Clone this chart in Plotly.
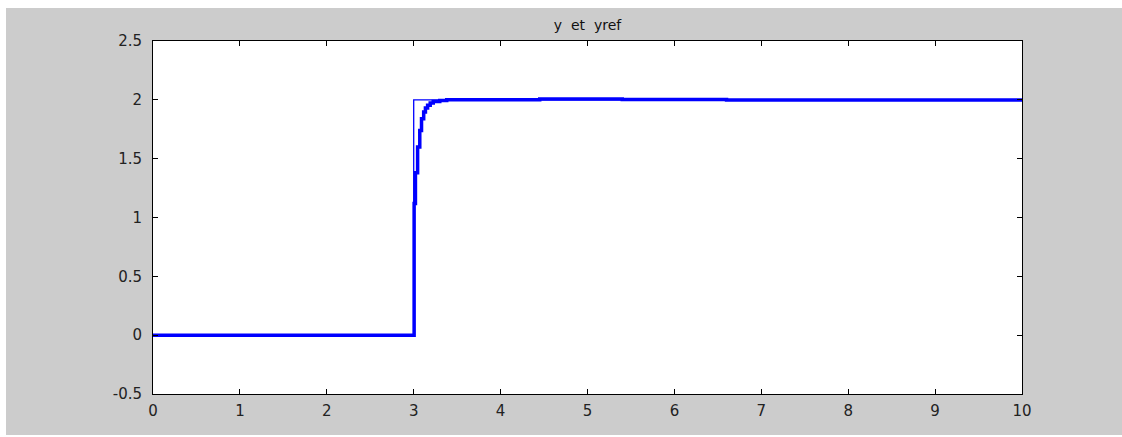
import plotly.graph_objects as go

# Reference signal yref
t_ref = [0, 3.0, 3.0, 10]
y_ref = [0, 0, 2, 2]

# Output y (sampled, held)
t_y = [0, 3.0, 3.005, 3.02, 3.045, 3.07, 3.09, 3.115, 3.135, 3.16, 3.19, 3.225, 3.30, 3.38, 4.45, 5.40, 6.60, 10]
y_out = [0, 0, 1.12, 1.38, 1.60, 1.74, 1.84, 1.897, 1.931, 1.954, 1.974, 1.985, 1.994, 2.0, 2.007, 2.003, 1.999, 1.999]

x_ticks = [0, 1, 2, 3, 4, 5, 6, 7, 8, 9, 10]
y_ticks = [-0.5, 0, 0.5, 1, 1.5, 2, 2.5]
y_ticklabels = ["-0.5", "0", "0.5", "1", "1.5", "2", "2.5"]

W, H = 1122, 437
L, R, T, B = 153, 100, 41, 43
pw, ph = W - L - R, H - T - B

fig = go.Figure()
fig.add_trace(go.Scatter(x=t_ref, y=y_ref, mode="lines", line=dict(color="#0000ff", width=1.3),
                         showlegend=False, hoverinfo="skip"))
fig.add_trace(go.Scatter(x=t_y, y=y_out, mode="lines", line=dict(color="#0000ff", width=3.5, shape="hv"),
                         showlegend=False))

# grey figure background with thin white border, white axes area
fig.add_shape(type="rect", xref="paper", yref="paper", layer="below",
              x0=(6 - L) / pw, x1=(W + 5 - L) / pw,
              y0=(H - B - 435) / ph, y1=(H - B - 8) / ph,
              fillcolor="#cccccc", line=dict(width=0))
fig.add_shape(type="rect", xref="paper", yref="paper", layer="below",
              x0=0, x1=1, y0=0, y1=1, fillcolor="white", line=dict(width=0))

axis_common = dict(showgrid=False, zeroline=False, showline=True, linecolor="#000000", linewidth=1,
                   mirror="ticks", ticks="inside", ticklen=5, tickcolor="#000000", tickwidth=1,
                   tickfont=dict(family="DejaVu Sans", size=15, color="#222222"))

fig.update_xaxes(range=[0, 10], tickvals=x_ticks, ticktext=[str(v) for v in x_ticks],
                 ticklabelstandoff=3, **axis_common)
fig.update_yaxes(range=[-0.5, 2.5], tickvals=y_ticks, ticktext=y_ticklabels,
                 ticklabelstandoff=7, **axis_common)

fig.update_layout(
    width=W, height=H,
    margin=dict(l=L, r=R, t=T, b=B, pad=0),
    paper_bgcolor="white", plot_bgcolor="white",
    title=dict(text="y\u00a0 et\u00a0 yref", x=0.5, xref="paper", xanchor="center",
               y=1 - 25 / H, yref="container", yanchor="middle",
               font=dict(family="DejaVu Sans", size=14, color="#111111")),
)

fig.write_html("out.html", config={"displayModeBar": False},
               post_script="document.body.style.margin='0';")
